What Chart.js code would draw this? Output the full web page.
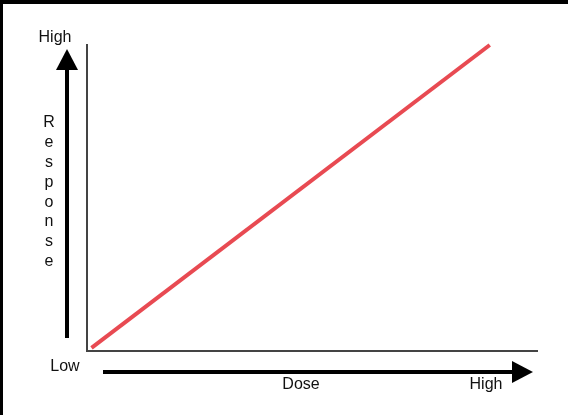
<!DOCTYPE html>
<html>
<head>
<meta charset="utf-8">
<script src="https://cdn.jsdelivr.net/npm/chart.js@4"></script>
<style>
  html, body { margin: 0; padding: 0; background: #fff; }
  #wrap { width: 568px; height: 415px; position: relative; }
</style>
</head>
<body>
<div id="wrap"><canvas id="doseChart" width="568" height="415"></canvas></div>
<script>
// data: straight dose-response line
const dose = [1, 89.5];
const response = [1, 100];

// text labels
const yHigh = 'High';
const yLow = 'Low';
const xTitle = 'Dose';
const xHigh = 'High';
const yTitleLetters = ['R', 'e', 's', 'p', 'o', 'n', 's', 'e'];

// decoration: frame, arrows and labels around the plot
const decor = {
  id: 'decor',
  afterDraw(chart) {
    const ctx = chart.ctx;
    ctx.save();
    // black frame at top and left
    ctx.fillStyle = '#000';
    ctx.fillRect(0, 0, chart.width, 4);
    ctx.fillRect(0, 0, 3, chart.height);

    // vertical arrow
    ctx.fillRect(65, 68, 4, 270);
    ctx.beginPath();
    ctx.moveTo(67, 49);
    ctx.lineTo(78, 70);
    ctx.lineTo(56, 70);
    ctx.closePath();
    ctx.fill();

    // horizontal arrow
    ctx.fillRect(103, 370, 412, 4);
    ctx.beginPath();
    ctx.moveTo(533, 372);
    ctx.lineTo(512, 361);
    ctx.lineTo(512, 383);
    ctx.closePath();
    ctx.fill();

    ctx.fillStyle = '#111';
    ctx.font = '16px "Liberation Sans", Arial, sans-serif';
    ctx.textAlign = 'center';
    ctx.textBaseline = 'middle';
    ctx.fillText(yHigh, 55, 38);
    ctx.fillText(yLow, 65, 367);
    ctx.fillText(xTitle, 301, 385);
    ctx.fillText(xHigh, 486, 385);
    yTitleLetters.forEach((ch, i) => {
      ctx.fillText(ch, 49, 123 + i * 19.8);
    });
    ctx.restore();
  }
};

const ctx = document.getElementById('doseChart').getContext('2d');
new Chart(ctx, {
  type: 'line',
  data: {
    datasets: [{
      data: dose.map((d, i) => ({ x: d, y: response[i] })),
      borderColor: 'rgb(232, 74, 82)',
      borderWidth: 4,
      pointRadius: 0,
      tension: 0,
      clip: false
    }]
  },
  options: {
    responsive: false,
    animation: false,
    layout: { padding: { left: 79, top: 45, right: 31, bottom: 56 } },
    plugins: {
      legend: { display: false },
      tooltip: { enabled: false }
    },
    scales: {
      x: {
        type: 'linear', min: 0, max: 100,
        ticks: { display: false },
        grid: { display: false },
        border: { display: true, color: '#444', width: 2 }
      },
      y: {
        type: 'linear', min: 0, max: 100,
        ticks: { display: false },
        grid: { display: false },
        border: { display: true, color: '#444', width: 2 }
      }
    }
  },
  plugins: [decor]
});
</script>
</body>
</html>
